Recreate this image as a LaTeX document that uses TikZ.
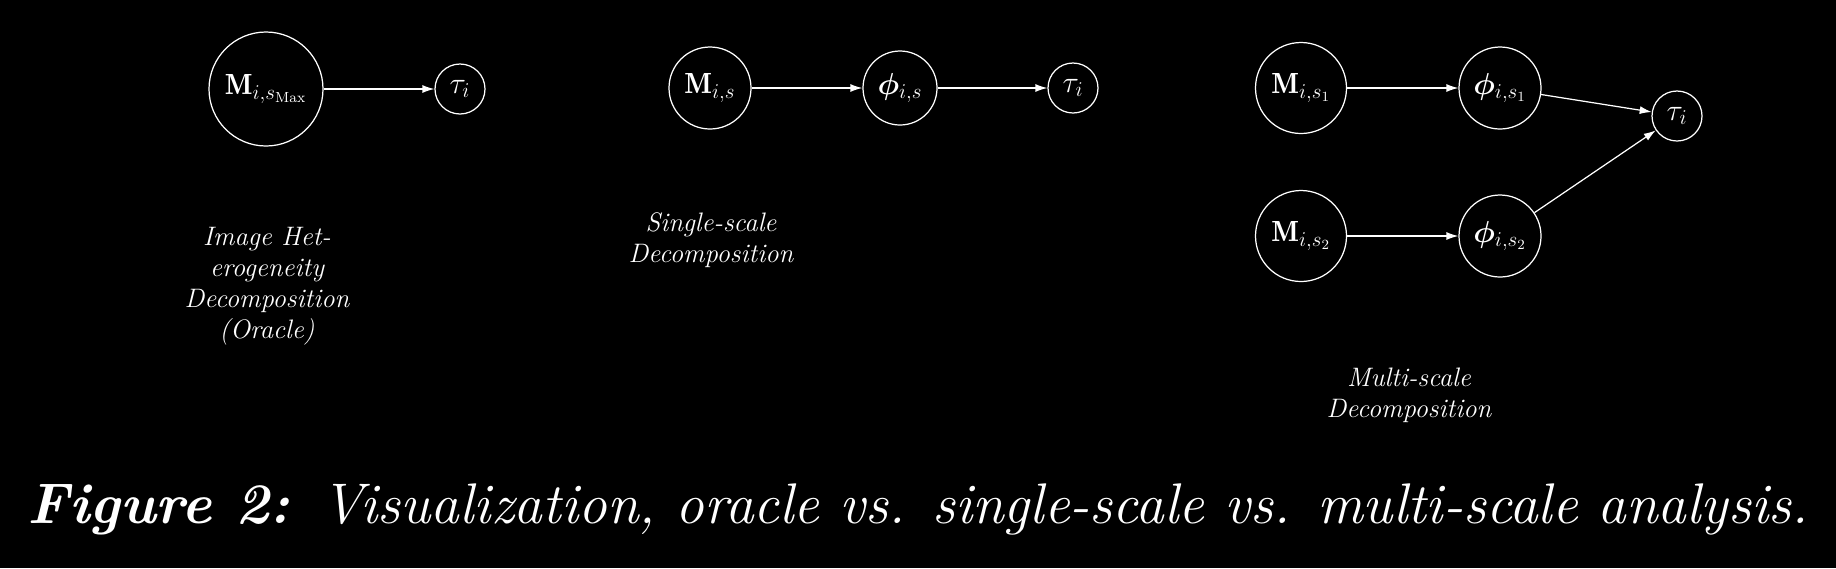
\documentclass[tikz,border=0pt]{standalone}
\usepackage{fontspec}
\usepackage{bm}
\usetikzlibrary{arrows.meta}

\begin{document}
\begin{tikzpicture}[
    font=\fontsize{16.6}{19}\selectfont,
    every path/.style={white,line width=0.7pt},
    var/.style={circle,draw=white,text=white,inner sep=0pt},
    lbl/.style={text=white,align=center,font=\fontsize{15.2}{17.6}\selectfont\itshape},
    link/.style={-{Latex[length=2.4mm,width=1.6mm]}}
  ]
    \fill [black] (0,0) rectangle (36.72,-11.36);
    \useasboundingbox (0,0) rectangle (36.72,-11.36);

    % oracle
    \node [var,minimum size=2.28cm] (oM) at (5.32,-1.78) {$\mathbf{M}_{i,s_{\mathrm{Max}}}$};
    \node [var,minimum size=1.0cm] (oT) at (9.20,-1.78) {$\tau_i$};
    \draw [link] (oM) -- (oT);
    \node [lbl] (oL) at (5.34,-5.72) {Image Het-\\erogeneity\\Decomposition\\(Oracle)};

    % single scale
    \node [var,minimum size=1.64cm] (sM) at (14.20,-1.76) {$\mathbf{M}_{i,s}$};
    \node [var,minimum size=1.48cm] (sP) at (18.00,-1.76) {$\bm{\phi}_{i,s}$};
    \node [var,minimum size=1.0cm] (sT) at (21.46,-1.76) {$\tau_i$};
    \draw [link] (sM) -- (sP);
    \draw [link] (sP) -- (sT);
    \node [lbl] (sL) at (14.22,-4.80) {Single-scale\\Decomposition};

    % multi scale
    \node [var,minimum size=1.82cm] (mM1) at (26.02,-1.76) {$\mathbf{M}_{i,s_1}$};
    \node [var,minimum size=1.64cm] (mP1) at (30.00,-1.76) {$\bm{\phi}_{i,s_1}$};
    \node [var,minimum size=1.82cm] (mM2) at (26.02,-4.72) {$\mathbf{M}_{i,s_2}$};
    \node [var,minimum size=1.64cm] (mP2) at (30.00,-4.72) {$\bm{\phi}_{i,s_2}$};
    \node [var,minimum size=1.0cm] (mT) at (33.54,-2.32) {$\tau_i$};
    \draw [link] (mM1) -- (mP1);
    \draw [link] (mM2) -- (mP2);
    \draw [link] (mP1) -- (mT);
    \draw [link] (mP2) -- (mT);
    \node [lbl] (mL) at (28.18,-7.90) {Multi-scale\\Decomposition};

    \node [text=white,anchor=base,font=\fontsize{32.6}{38}\selectfont] (cap) at (18.36,-10.46)
      {\bfseries\itshape Figure 2: \mdseries Visualization, oracle vs. single-scale vs. multi-scale analysis.};
\end{tikzpicture}
\end{document}
